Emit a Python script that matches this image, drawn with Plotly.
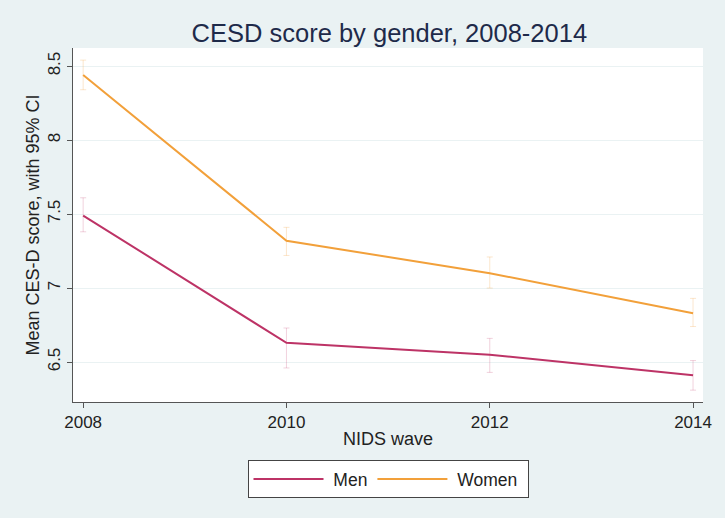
import plotly.graph_objects as go

# NIDS survey waves
waves = [2008, 2010, 2012, 2014]

# Mean CES-D score and 95% confidence limits, men
men_mean = [7.49, 6.63, 6.55, 6.41]
men_lo = [7.38, 6.46, 6.43, 6.31]
men_hi = [7.61, 6.73, 6.66, 6.51]

# Mean CES-D score and 95% confidence limits, women
women_mean = [8.44, 7.32, 7.10, 6.83]
women_lo = [8.34, 7.22, 7.00, 6.74]
women_hi = [8.54, 7.41, 7.21, 6.93]

y_ticks = [6.5, 7, 7.5, 8, 8.5]
y_tick_text = ["6.5", "7", "7.5", "8", "8.5"]

MEN_COLOR = "#bd3366"
WOMEN_COLOR = "#f2a03a"
BG = "#eaf2f3"
FONT = "Liberation Sans, Arial, sans-serif"
NBSP = "\u00a0"


def ci_trace(name, mean, lo, hi, color, faint):
    return go.Scatter(
        x=waves,
        y=mean,
        mode="lines",
        name=name,
        line=dict(color=color, width=2),
        error_y=dict(
            type="data",
            symmetric=False,
            array=[h - m for h, m in zip(hi, mean)],
            arrayminus=[m - l for m, l in zip(mean, lo)],
            color=faint,
            thickness=1,
            width=3,
        ),
    )


fig = go.Figure()
fig.add_trace(ci_trace(NBSP + "Men", men_mean, men_lo, men_hi, MEN_COLOR, "rgba(189,51,102,0.22)"))
fig.add_trace(ci_trace(NBSP + "Women" + NBSP, women_mean, women_lo, women_hi, WOMEN_COLOR, "rgba(242,160,58,0.25)"))

fig.update_layout(
    width=725,
    height=518,
    margin=dict(l=73, r=22, t=48, b=116),
    paper_bgcolor=BG,
    plot_bgcolor="white",
    font=dict(family=FONT, size=17, color="#222222"),
    title=dict(
        text="CESD score by gender, 2008-2014",
        x=0.537,
        xanchor="center",
        y=0.936,
        yanchor="middle",
        font=dict(size=25.5, color="#1e2a4a"),
    ),
    xaxis=dict(
        range=[2007.9, 2014.098],
        tickvals=waves,
        ticktext=[str(w) for w in waves],
        showgrid=False,
        zeroline=False,
        showline=True,
        linecolor="#555555",
        linewidth=1,
        ticks="outside",
        ticklen=5,
        tickcolor="#555555",
        tickfont=dict(size=17),
        title=dict(text="NIDS wave", standoff=0, font=dict(size=18)),
    ),
    yaxis=dict(
        range=[6.23, 8.622],
        tickvals=y_ticks,
        ticktext=y_tick_text,
        tickangle=-90,
        showgrid=True,
        gridcolor="#eaf2f3",
        gridwidth=1,
        zeroline=False,
        showline=True,
        linecolor="#555555",
        linewidth=1,
        ticks="outside",
        ticklen=5,
        tickcolor="#555555",
        tickfont=dict(size=17),
        title=dict(text="Mean CES-D score, with 95% CI", standoff=0, font=dict(size=18)),
    ),
    legend=dict(
        orientation="h",
        x=0.5,
        xanchor="center",
        y=-0.164,
        yanchor="top",
        bgcolor="white",
        bordercolor="#444444",
        borderwidth=1,
        font=dict(size=17.5),
        itemwidth=70,
    ),
    showlegend=True,
)

fig.write_html("out.html")
